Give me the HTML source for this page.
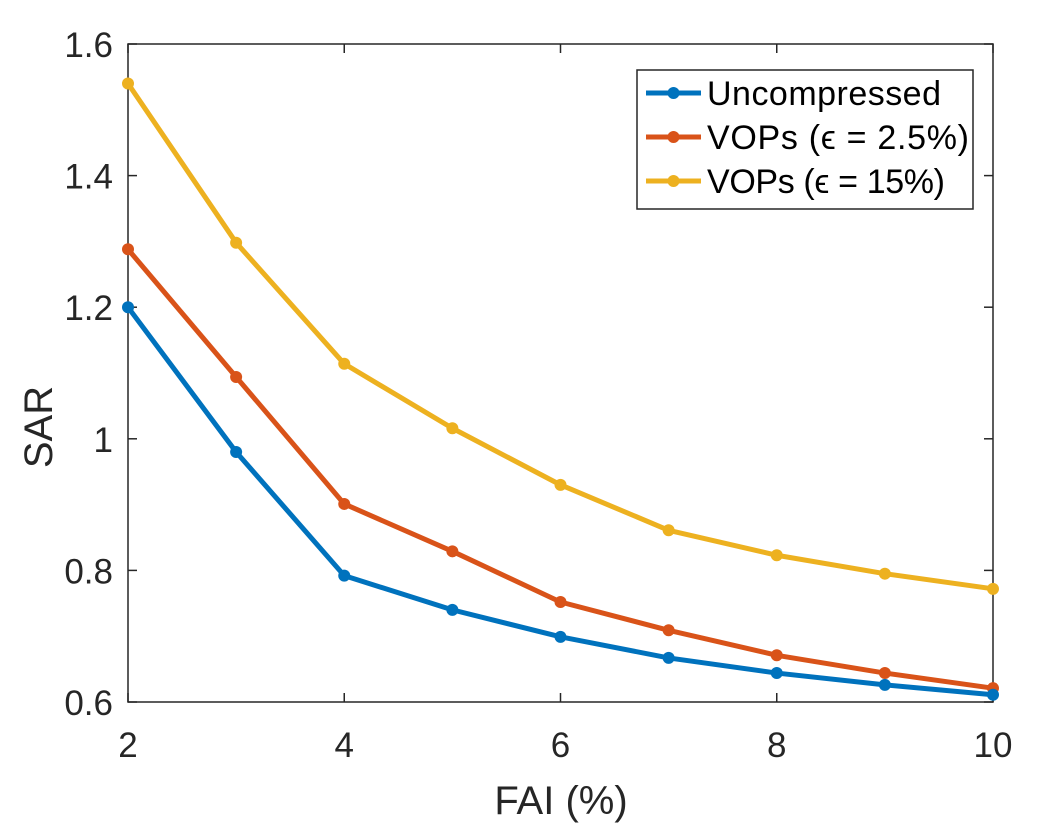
<!DOCTYPE html>
<html><head><meta charset="utf-8"><style>
html,body{margin:0;padding:0;background:#fff;}
svg{display:block;font-family:"Liberation Sans",sans-serif;}
</style></head><body>
<svg id="chart" width="1045" height="835"></svg>
<script>
const categories=[2,3,4,5,6,7,8,9,10];
const uncompressed=[1.200,0.980,0.792,0.740,0.699,0.667,0.644,0.626,0.611];
const vops25=[1.288,1.094,0.901,0.829,0.752,0.709,0.671,0.644,0.621];
const vops15=[1.540,1.298,1.114,1.016,0.930,0.861,0.823,0.795,0.772];
const xTicks=[2,4,6,8,10];
const yTicks=[0.6,0.8,1.0,1.2,1.4,1.6];
const yTickLabels=["0.6","0.8","1","1.2","1.4","1.6"];
const seriesNames=["Uncompressed","VOPs (\u03F5 = 2.5%)","VOPs (\u03F5 = 15%)"];

const NS="http://www.w3.org/2000/svg";
const svg=document.getElementById('chart');
const L=128,R=993,T=44,B=702;
const xs=v=>L+(v-2)/8*(R-L);
const ys=v=>B-(v-0.6)/1.0*(B-T);
function mk(tag,attrs,parent){const e=document.createElementNS(NS,tag);for(const k in attrs)e.setAttribute(k,attrs[k]);(parent||svg).appendChild(e);return e;}

const axes=mk('g',{});


const box=mk('rect',{x:L,y:T,width:R-L,height:B-T,fill:'none',stroke:'#262626','stroke-width':1.5},axes);


xTicks.forEach(v=>{
  const x=xs(v);
  mk('line',{x1:x,y1:B,x2:x,y2:B-9,stroke:'#262626','stroke-width':1.5},axes);
  mk('line',{x1:x,y1:T,x2:x,y2:T+9,stroke:'#262626','stroke-width':1.5},axes);
  const t=mk('text',{x:x,y:B+55,'text-anchor':'middle','font-size':35,fill:'#262626'},axes);
  t.textContent=v;
  
  
});
yTicks.forEach((v,i)=>{
  const y=ys(v);
  mk('line',{x1:L,y1:y,x2:L+9,y2:y,stroke:'#262626','stroke-width':1.5},axes);
  mk('line',{x1:R,y1:y,x2:R-9,y2:y,stroke:'#262626','stroke-width':1.5},axes);
  const t=mk('text',{x:L-15,y:y+13,'text-anchor':'end','font-size':35,fill:'#262626'},axes);
  t.textContent=yTickLabels[i];
  
  
});
const xt=mk('text',{x:561,y:814,'text-anchor':'middle','font-size':40,fill:'#262626'});
xt.textContent='FAI (%)';


const yt=mk('text',{x:0,y:0,'text-anchor':'middle','font-size':40,fill:'#262626',transform:`translate(52,427) rotate(-90)`});
yt.textContent='SAR';



const colors=['#0072BD','#D95319','#EDB120'];
const allSeries=[uncompressed,vops25,vops15];
const names=['uncompressed','vops-2-5','vops-15'];
[2,1,0].forEach(si=>{
  const data=allSeries[si];
  const g=mk('g',{});
  
  
  const pts=data.map((v,i)=>xs(categories[i])+','+ys(v)).join(' ');
  const pl=mk('polyline',{points:pts,fill:'none',stroke:colors[si],'stroke-width':5,'stroke-linejoin':'round'},g);
  
  
  data.forEach((v,i)=>{
    const c=mk('circle',{cx:xs(categories[i]),cy:ys(v),r:6,fill:colors[si]},g);
    
    
  });
});

const lg=mk('g',{});


mk('rect',{x:637,y:70,width:336,height:139,fill:'#fff',stroke:'#262626','stroke-width':1.5},lg);
seriesNames.forEach((n,i)=>{
  const y=93+i*44;
  const e=mk('g',{},lg);
  
  
  mk('line',{x1:646,y1:y,x2:701,y2:y,stroke:colors[i],'stroke-width':5},e);
  mk('circle',{cx:673.5,cy:y,r:6,fill:colors[i]},e);
  const t=mk('text',{x:707,y:y+12,'font-size':34,fill:'#000',textLength:i===0?234:(i===1?262:238)},e);
  t.textContent=n;
});
</script>
</body></html>
